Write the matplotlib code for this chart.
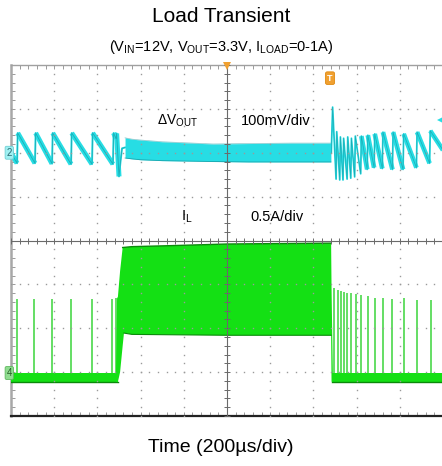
import numpy as np
import matplotlib
matplotlib.use('Agg')
import matplotlib.pyplot as plt
from matplotlib.collections import LineCollection

plt.rcParams['font.family'] = ['Liberation Sans', 'DejaVu Sans']
plt.rcParams['mathtext.default'] = 'regular'

# scope settings
T_DIV = 200     # us/div
V_DIV = 100     # mV/div  (channel 2, dVout)
I_DIV = 0.5     # A/div   (channel 4, IL)
V_POS = 6       # div, channel 2 ground marker
I_POS = 1       # div, channel 4 ground marker

# --- channel 2: output voltage ripple (mV) ---
# sawtooth before the load step: rise time, peak, trough just before the rise
pre_rise_t = [28, 111, 190, 278, 375, 472, 486]
pre_peak = [45, 45, 45, 45, 45, 45, 44]
pre_trough = [-24, -24, -25, -26, -26, -26, 32]
# undershoot at the load step
step_t = [500, 506, 514, 528]
step_v = [-54, -25, 10, 12]
# loaded: noisy band
band_t = [528, 560, 600, 700, 935, 1100, 1300, 1481]
band_top = [34, 31, 29, 25, 20, 21, 22, 22]
band_bot = [-12, -14, -16, -18, -20, -21, -21, -21]
# load release overshoot, then sawtooth with growing period
rel_t = [1483, 1489]
rel_v = [0, 104]
post_rise_t = [1505, 1522, 1537, 1556, 1573, 1591, 1619, 1649, 1681, 1719, 1766, 1815, 1877, 1938]
post_peak = [48, 36, 33, 36, 33, 38, 38, 40, 43, 47, 47, 43, 47, 50]
post_trough = [-60, -62, -62, -60, -58, -55, -48, -38, -34, -36, -38, -38, -34, -24]
end_t, end_v = 2000, 6

# --- channel 4: inductor current (A) ---
il_base_lo, il_base_hi = -0.11, -0.01
pre_spike_t = [28, 106, 190, 278, 375, 468, 486]
pre_spike_a = [0.83, 0.83, 0.83, 0.83, 0.83, 0.83, 0.84]
blk_top_t = [486, 491, 495, 505, 517, 560, 720, 1000, 1482, 1484, 1490]
blk_top_a = [-0.01, 0.84, 0.86, 1.15, 1.42, 1.43, 1.44, 1.46, 1.47, 0.96, -0.01]
blk_bot_t = [486, 495, 505, 517, 523, 560, 1000, 1482, 1484, 1490]
blk_bot_a = [-0.11, -0.11, 0.0, 0.30, 0.445, 0.43, 0.42, 0.42, -0.11, -0.11]
post_spike_t = [1495, 1514, 1528, 1542, 1556, 1574, 1597, 1620, 1653, 1685, 1722, 1764, 1820, 1880, 1945]
post_spike_a = [0.96, 0.935, 0.92, 0.91, 0.90, 0.90, 0.89, 0.88, 0.87, 0.84, 0.84, 0.83, 0.84, 0.82, 0.82]

CYAN = '#27dde4'
CYAN_DK = '#138e97'
GREEN = '#14e014'
GREEN_DK = '#0a8a0a'
GRID = '#9a9a9a'


def vy(mv):
    return V_POS + np.asarray(mv, dtype=float) / V_DIV


def iy(a):
    return I_POS + np.asarray(a, dtype=float) / I_DIV


def teeth(rise_t, peaks, troughs, rise=3):
    t, v = [], []
    for rt, pk, tr in zip(rise_t, peaks, troughs):
        t += [rt, rt + rise]
        v += [tr, pk]
    return t, v


def ramps(t, v):
    # falling segments of a path (the slow discharge part of each tooth)
    segs = []
    for i in range(len(t) - 1):
        if v[i + 1] < v[i] and t[i + 1] - t[i] > 8:
            segs.append([(t[i], vy(v[i])), (t[i + 1], vy(v[i + 1]))])
    return segs


fig = plt.figure(figsize=(4.42, 4.66), dpi=100)
ax = fig.add_axes([11 / 442, 50 / 466, 432 / 442, 351 / 466])
ax.set_xlim(0, 10 * T_DIV)
ax.set_ylim(0, 8)

# channel 2 trace
t1, v1 = teeth(pre_rise_t, pre_peak, pre_trough)
t1 = [0] + t1 + step_t
v1 = [0] + v1 + step_v
ax.plot(t1, vy(v1), color=CYAN, lw=1.4, zorder=3)
ax.add_collection(LineCollection(ramps(t1, v1), colors=CYAN, linewidths=3.6, zorder=3,
                                 capstyle='butt'))
ax.plot(t1, vy(v1), color=CYAN_DK, lw=0.6, alpha=0.6, zorder=3)
ax.fill_between(band_t, vy(band_bot), vy(band_top), color=CYAN, lw=0, zorder=3)
ax.plot(band_t, vy(band_top), color=CYAN_DK, lw=0.5, alpha=0.5, zorder=3)
ax.plot(band_t, vy(band_bot), color=CYAN_DK, lw=0.6, alpha=0.7, zorder=3)
t2, v2 = teeth(post_rise_t, post_peak, post_trough, rise=3)
t2 = rel_t + t2 + [end_t]
v2 = rel_v + v2 + [end_v]
n_ring = 2 + 2 * 6      # fast ringing right after the release stays thin
ax.plot(t2, vy(v2), color=CYAN, lw=1.3, zorder=3)
ax.add_collection(LineCollection(ramps(t2[n_ring:], v2[n_ring:]), colors=CYAN,
                                 linewidths=3.4, zorder=3, capstyle='butt'))
ax.plot(t2, vy(v2), color=CYAN_DK, lw=0.5, alpha=0.6, zorder=3)

# channel 4 trace
for ta, tb in [(0, 495), (1487, 2000)]:
    ax.fill_between([ta, tb], iy(il_base_lo), iy(il_base_hi), color=GREEN, lw=0, zorder=3)
    ax.plot([ta, tb], iy([il_base_lo, il_base_lo]), color=GREEN_DK, lw=1, zorder=3)
ax.vlines(pre_spike_t, iy(il_base_hi), iy(pre_spike_a), color='#3ad43a', lw=1.1, zorder=3)
ax.vlines(post_spike_t, iy(il_base_hi), iy(post_spike_a), color='#3ad43a', lw=1.1, zorder=3)
ax.fill(blk_top_t + blk_bot_t[::-1], np.concatenate([iy(blk_top_a), iy(blk_bot_a)[::-1]]),
        color=GREEN, lw=0, zorder=3)
ax.plot(blk_top_t[4:9], iy(blk_top_a[4:9]), color=GREEN_DK, lw=1, zorder=3)
ax.plot(blk_bot_t[4:8], iy(blk_bot_a[4:8]), color=GREEN_DK, lw=0.8, zorder=3)

# graticule: dotted grid, centre cross with small ticks
minor_x = np.arange(0, 10 * T_DIV + 1, T_DIV / 5)
minor_y = np.arange(0, 8.01, 0.2)
for k in range(1, 10):
    if k != 5:
        ax.plot(np.full_like(minor_y, k * T_DIV), minor_y, ls='none', marker='s',
                ms=1.0, mew=0, color=GRID, zorder=4)
for k in range(1, 8):
    if k != 4:
        ax.plot(minor_x, np.full_like(minor_x, k), ls='none', marker='s',
                ms=1.0, mew=0, color=GRID, zorder=4)
ax.axvline(5 * T_DIV, color='#6a6a6a', lw=0.8, zorder=4)
ax.axhline(4, color='#6a6a6a', lw=0.8, zorder=4)
ax.plot(minor_x, np.full_like(minor_x, 4), ls='none', marker='|', ms=4, mew=0.7,
        color='#6a6a6a', zorder=4)
ax.plot(np.full_like(minor_y, 5 * T_DIV), minor_y, ls='none', marker='_', ms=5, mew=0.7,
        color='#6a6a6a', zorder=4)

ax.set_xticks(np.arange(0, 2001, T_DIV))
ax.set_xticks(minor_x, minor=True)
ax.set_yticks(np.arange(0, 9))
ax.set_yticks(minor_y, minor=True)
ax.tick_params(which='both', direction='in', top=True, bottom=True, left=True, right=False,
               labelbottom=False, labelleft=False, length=3, width=0.7, color=GRID)
ax.spines['right'].set_visible(False)
ax.spines['left'].set_color('#a8a8a8')
ax.spines['left'].set_linewidth(1.8)
ax.spines['top'].set_color('#a0a0a0')
ax.spines['top'].set_linewidth(1.0)
ax.spines['bottom'].set_color('#222222')
ax.spines['bottom'].set_linewidth(1.6)

# channel labels
ax.text(676, vy(72), r'$\Delta$V$_{OUT}$', fontsize=10, va='center', ha='left', zorder=6)
ax.text(1065, vy(72), '100mV/div', fontsize=10.5, va='center', ha='left', zorder=6)
ax.text(787, 4.53, 'I$_{L}$', fontsize=10.5, va='center', ha='left', zorder=6)
ax.text(1107, 4.53, '0.5A/div', fontsize=10.5, va='center', ha='left', zorder=6)

# scope markers
ax.text(-8, V_POS, '2', fontsize=7, color='#2a6a70', ha='center', va='center', clip_on=False,
        zorder=6, bbox=dict(boxstyle='round,pad=0.15', fc='#9ff0f2', ec='#6fd0d5', lw=0.6))
ax.text(-8, I_POS - 0.02, '4', fontsize=7, color='#2a602a', ha='center', va='center',
        clip_on=False, zorder=6,
        bbox=dict(boxstyle='round,pad=0.15', fc='#8fdc8f', ec='#5fb85f', lw=0.6))
ax.text(1477, 7.7, 'T', fontsize=6.5, color='white', ha='center', va='center', zorder=6,
        fontweight='bold', bbox=dict(boxstyle='round,pad=0.2', fc='#f0a030', ec='#e08a10', lw=0.6))
ax.plot([5 * T_DIV], [7.97], marker='v', ms=6, color='#f0a030', mew=0, clip_on=False, zorder=6)
ax.plot([1985], [6.74], marker='<', ms=5, color=CYAN, mew=0, clip_on=False, zorder=6)

# titles
fig.text(0.5, 1 - 16 / 466, 'Load Transient', fontsize=15, ha='center', va='center')
fig.text(0.5, 1 - 47 / 466,
         r'(V$_{IN}$=12V, V$_{OUT}$=3.3V, I$_{LOAD}$=0-1A)',
         fontsize=10.5, ha='center', va='center')
fig.text(0.5, 1 - 447 / 466, 'Time (200\u00b5s/div)', fontsize=14, ha='center', va='center')

fig.savefig('out.png', dpi=100)
